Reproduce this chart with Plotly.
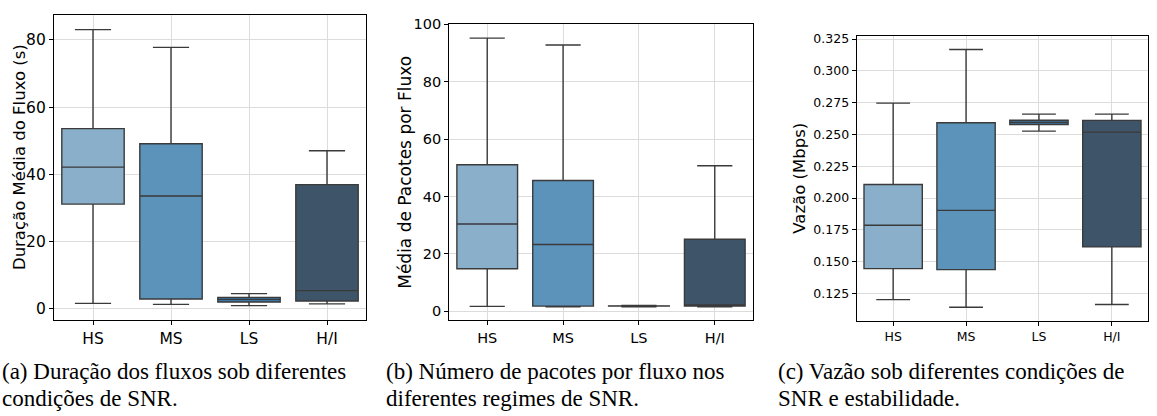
import plotly.graph_objects as go

categories = ["HS", "MS", "LS", "H/I"]
colors = ["#89AFCA", "#5B93BA", "#3C76A6", "#3E5569"]

# Panel (a): Duração Média do Fluxo (s)
dur_low = [1.5, 1.2, 0.85, 1.35]
dur_q1 = [31.1, 2.8, 1.9, 2.2]
dur_med = [42.1, 33.5, 2.7, 5.3]
dur_q3 = [53.6, 49.1, 3.3, 36.9]
dur_high = [83.1, 77.8, 4.4, 47.0]

# Panel (b): Média de Pacotes por Fluxo
pac_low = [1.7, 1.6, 1.6, 1.6]
pac_q1 = [14.8, 1.8, 1.8, 1.8]
pac_med = [30.4, 23.3, 1.8, 2.2]
pac_q3 = [51.1, 45.6, 1.9, 25.1]
pac_high = [95.2, 92.8, 2.0, 50.7]

# Panel (c): Vazão (Mbps)
vaz_low = [0.1201, 0.1141, 0.2526, 0.1163]
vaz_q1 = [0.1445, 0.1437, 0.2577, 0.1616]
vaz_med = [0.1786, 0.1903, 0.2594, 0.2518]
vaz_q3 = [0.2106, 0.2592, 0.2612, 0.2611]
vaz_high = [0.2746, 0.3168, 0.2660, 0.2660]

y_titles = ["Duração Média do Fluxo (s)", "Média de Pacotes por Fluxo", "Vazão (Mbps)"]
y_ticks = [[0, 20, 40, 60, 80], [0, 20, 40, 60, 80, 100],
           [0.125, 0.150, 0.175, 0.200, 0.225, 0.250, 0.275, 0.300, 0.325]]
caption_lines = [
    ["(a) Duração dos fluxos sob diferentes", "condições de SNR."],
    ["(b) Número de pacotes por fluxo nos", "diferentes regimes de SNR."],
    ["(c) Vazão sob diferentes condições de", "SNR e estabilidade."],
]

fig = go.Figure()

panels = [
    (dur_low, dur_q1, dur_med, dur_q3, dur_high, "x", "y"),
    (pac_low, pac_q1, pac_med, pac_q3, pac_high, "x2", "y2"),
    (vaz_low, vaz_q1, vaz_med, vaz_q3, vaz_high, "x3", "y3"),
]
for lo, q1, md, q3, hi, xa, ya in panels:
    for i, c in enumerate(categories):
        fig.add_trace(go.Box(
            x=[c], lowerfence=[lo[i]], q1=[q1[i]], median=[md[i]], q3=[q3[i]],
            upperfence=[hi[i]], fillcolor=colors[i],
            line=dict(color="#3a3a3a", width=1.4), width=0.8, whiskerwidth=0.58,
            xaxis=xa, yaxis=ya, showlegend=False, hoverinfo="skip",
        ))

W, H = 1157, 416
def dx(a, b):
    return [a / W, b / W]
def dy(top, bot):
    return [(H - bot) / H, (H - top) / H]

common_axis = dict(showline=True, linecolor="black", linewidth=1.2, mirror=True,
                   ticks="outside", ticklen=4, tickcolor="black",
                   showgrid=True, gridcolor="#dcdcdc", gridwidth=1, zeroline=False)

tick_fonts = [15.5, 14.5, 12.5]
title_fonts = [16.5, 17, 16.5]
title_pos = [(19, 152), (405, 168), (800, 174)]
x_domains = [dx(54, 366), dx(449.3, 752.7), dx(856.7, 1148.3)]
y_domains = [dy(7.3, 318.3), dy(16.7, 318.3), dy(28.7, 319.3)]
y_ranges = [[-3.5, 87.4], [-3.1, 100], [0.1032, 0.3273]]
y_fmt = ["", "", ".3f"]

layout = {}
annotations = []
for k in range(3):
    sx = "" if k == 0 else str(k + 1)
    layout["xaxis" + sx] = dict(common_axis, domain=x_domains[k], anchor="y" + sx,
                                type="category", categoryorder="array", categoryarray=categories,
                                range=[-0.5, 3.5],
                                tickfont=dict(family="DejaVu Sans", size=tick_fonts[k], color="black"))
    layout["yaxis" + sx] = dict(common_axis, domain=y_domains[k], anchor="x" + sx,
                                range=y_ranges[k], tickvals=y_ticks[k], tickformat=y_fmt[k],
                                tickfont=dict(family="DejaVu Sans", size=tick_fonts[k], color="black"))
    tx, ty = title_pos[k]
    annotations.append(dict(text=y_titles[k], x=tx / W, y=(H - ty) / H, xref="paper", yref="paper",
                            xanchor="center", yanchor="middle", textangle=-90, showarrow=False,
                            font=dict(family="DejaVu Sans", size=title_fonts[k], color="black")))

cap_x = [0, 384, 776]
cap_y = [371, 398]
for k in range(3):
    for j, line in enumerate(caption_lines[k]):
        annotations.append(dict(text=line, x=cap_x[k] / W, y=(H - cap_y[j]) / H,
                                xref="paper", yref="paper", xanchor="left", yanchor="middle",
                                showarrow=False,
                                font=dict(family="Liberation Serif", size=23, color="black")))

fig.update_layout(width=W, height=H, margin=dict(l=0, r=0, t=0, b=0),
                  plot_bgcolor="white", paper_bgcolor="white",
                  boxmode="overlay", annotations=annotations, **layout)

fig.write_html("out.html")
